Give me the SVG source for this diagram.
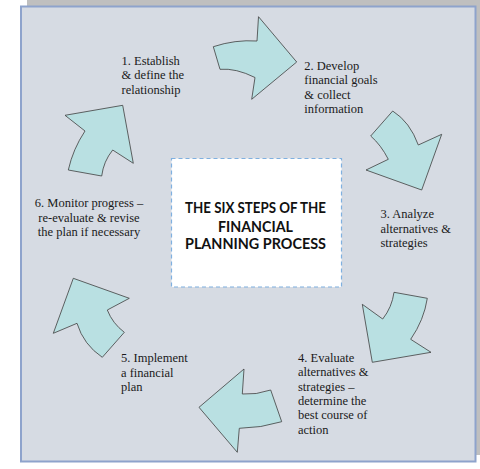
<svg xmlns="http://www.w3.org/2000/svg" width="480" height="469" viewBox="0 0 480 469">
<style>
.arrow{fill:#b9e0e2;stroke:#3f3f3f;stroke-width:0.8;stroke-linejoin:miter}
.lbl{font-family:"Liberation Serif","Times New Roman",serif;font-size:12.5px;fill:#1a1a1a}
.title{font-family:"Lato","Liberation Sans",sans-serif;font-weight:bold;font-size:15px;fill:#111;text-anchor:middle}
</style>
<rect x="27" y="0" width="453" height="455" fill="#bfbfbf"/>
<rect id="frame" x="21" y="6.5" width="454.5" height="455" fill="#d6dbe3" stroke="#8ea3cc" stroke-width="2"/>
<g id="connectors">
<path id="arrow1" class="arrow" d="M213.3,46.7 Q235,39.5 257,41 L258.5,16.7 L296.7,62 L251.7,99.3 L255,77.5 Q236,68 220,69.3 Z"/>
<path id="arrow2" class="arrow" d="M392.7,111 Q410,122 418.3,145 L441.7,134.3 L421.7,190 L366,170 L388.3,159.3 Q381,145 370.7,136 Z"/>
<path id="arrow3" class="arrow" d="M394,292.3 L427.3,298.3 Q424,320 410.7,339.3 L431,352.3 L372.3,362.3 L362.3,304.3 L382.7,319 Q392,307.2 394,292.3 Z"/>
<path id="arrow4" class="arrow" d="M270.7,390 Q256,395 242.3,394 L244,369 L199,407.3 L237.3,452.3 L239.3,428.3 Q261,428 281.7,421.7 Z"/>
<path id="arrow5" class="arrow" d="M73.3,278.3 L129.3,298.3 L107.3,310 Q112.6,323.5 124.3,332.3 L102.3,357.3 Q83.6,344.8 77,323.3 L53.3,333.3 Z"/>
<path id="arrow6" class="arrow" d="M65,115.3 L122.7,105.3 L133.3,163.3 L112.7,150 Q103.5,161.4 101.7,176 L68.3,170 Q73,149 85,131 Z"/>
</g>
<g id="center">
<rect x="171.5" y="158.5" width="170" height="128.5" fill="#ffffff" stroke="#7fb0e0" stroke-width="1.2" stroke-dasharray="4,3"/>
<text class="title" x="255.5" y="213" textLength="141" lengthAdjust="spacingAndGlyphs">THE SIX STEPS OF THE</text>
<text class="title" x="255.5" y="231.5" textLength="75" lengthAdjust="spacingAndGlyphs">FINANCIAL</text>
<text class="title" x="255.5" y="249" textLength="141" lengthAdjust="spacingAndGlyphs">PLANNING PROCESS</text>
</g>
<g id="step1">
<text class="lbl" x="121.5" y="65">1. Establish</text>
<text class="lbl" x="121.5" y="79.3">&amp; define the</text>
<text class="lbl" x="121.5" y="93.5">relationship</text>
</g>
<g id="step2">
<text class="lbl" x="304.3" y="70">2. Develop</text>
<text class="lbl" x="304.3" y="84.4">financial goals</text>
<text class="lbl" x="304.3" y="98.8">&amp; collect</text>
<text class="lbl" x="304.3" y="113.2">information</text>
</g>
<g id="step3">
<text class="lbl" x="380.5" y="218.3">3. Analyze</text>
<text class="lbl" x="380.5" y="232.6">alternatives &amp;</text>
<text class="lbl" x="380.5" y="246.8">strategies</text>
</g>
<g id="step4">
<text class="lbl" x="298" y="361.7">4. Evaluate</text>
<text class="lbl" x="298" y="376">alternatives &amp;</text>
<text class="lbl" x="298" y="390.5">strategies –</text>
<text class="lbl" x="298" y="404.9">determine the</text>
<text class="lbl" x="298" y="419.3">best course of</text>
<text class="lbl" x="298" y="433.7">action</text>
</g>
<g id="step5">
<text class="lbl" x="121" y="362.3">5. Implement</text>
<text class="lbl" x="121" y="376.6">a financial</text>
<text class="lbl" x="121" y="390.8">plan</text>
</g>
<g id="step6">
<text class="lbl" x="89" y="207.3" text-anchor="middle">6. Monitor progress –</text>
<text class="lbl" x="89" y="221.7" text-anchor="middle">re-evaluate &amp; revise</text>
<text class="lbl" x="89" y="236" text-anchor="middle">the plan if necessary</text>
</g>
</svg>
